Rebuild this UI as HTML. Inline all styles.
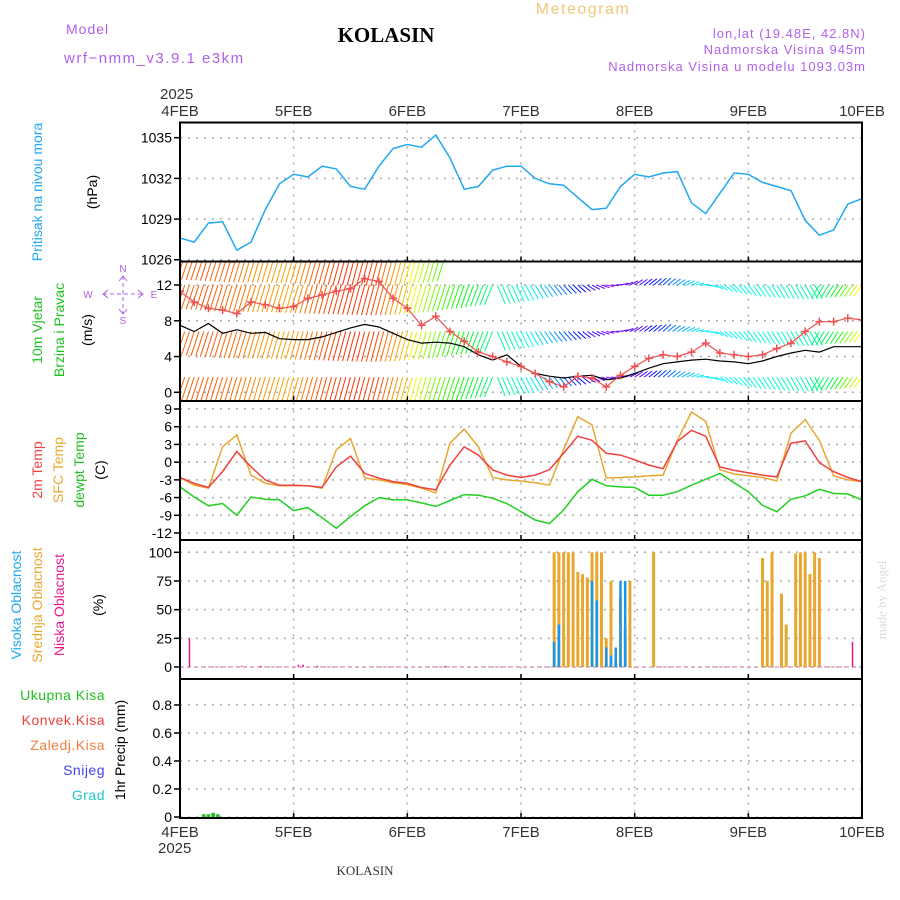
<!DOCTYPE html>
<html><head><meta charset="utf-8">
<style>
body{margin:0;background:#fff;}
svg{display:block;font-family:"Liberation Sans",sans-serif;}
</style></head>
<body>
<svg id="chart" width="900" height="900" viewBox="0 0 900 900">
  <rect x="0" y="0" width="900" height="900" fill="#fff"/>
  <text x="66" y="34" font-size="14" fill="#b060e8" letter-spacing="1">Model</text>
  <text x="64" y="63" font-size="15" fill="#b060e8" letter-spacing="1.5">wrf−nmm_v3.9.1  e3km</text>
  <text x="386" y="42" font-size="21" font-weight="bold" font-family="Liberation Serif,serif" text-anchor="middle" fill="#000">KOLASIN</text>
  <text x="583" y="14" font-size="16" fill="#f0c878" text-anchor="middle" letter-spacing="1.5">Meteogram</text>
  <text x="866" y="38" font-size="13" fill="#b060e8" text-anchor="end" letter-spacing="1">lon,lat (19.48E, 42.8N)</text>
  <text x="866" y="54" font-size="13" fill="#b060e8" text-anchor="end" letter-spacing="1">Nadmorska Visina 945m</text>
  <text x="866" y="71" font-size="13" fill="#b060e8" text-anchor="end" letter-spacing="1">Nadmorska Visina u modelu 1093.03m</text>
  <text x="160" y="99" font-size="15" fill="#333">2025</text>
  <text x="158" y="853" font-size="15" fill="#333">2025</text>
  <text x="365" y="875" font-size="13" fill="#333" font-family="Liberation Serif,serif" text-anchor="middle">KOLASIN</text>
  <text transform="translate(886,600) rotate(-90)" font-size="13" fill="#d8e0d8" font-family="Liberation Serif,serif" text-anchor="middle">made by Angel</text>

  <!-- left labels -->
  <text transform="translate(42,192) rotate(-90)" font-size="14" fill="#20a8f0" text-anchor="middle">Pritisak na nivou mora</text>
  <text transform="translate(97,192) rotate(-90)" font-size="14" fill="#000" text-anchor="middle">(hPa)</text>
  <text transform="translate(42,330) rotate(-90)" font-size="14" fill="#20c020" text-anchor="middle">10m Vjetar</text>
  <text transform="translate(64,330) rotate(-90)" font-size="14" fill="#20c020" text-anchor="middle">Brzina i Pravac</text>
  <text transform="translate(92,330) rotate(-90)" font-size="14" fill="#000" text-anchor="middle">(m/s)</text>
  <g>
    <line x1="123" y1="276" x2="123" y2="314" stroke="#b060e8" stroke-width="1" stroke-dasharray="4,3"/>
    <line x1="103" y1="294" x2="143" y2="294" stroke="#b060e8" stroke-width="1" stroke-dasharray="4,3"/>
    <path d="M119,281 L123,276 L127,281 M119,309 L123,314 L127,309 M108,290 L103,294 L108,298 M138,290 L143,294 L138,298" fill="none" stroke="#b060e8" stroke-width="1"/>
    <g fill="#b060e8" font-size="10" text-anchor="middle">
      <text x="123" y="272">N</text><text x="123" y="324">S</text>
      <text x="88" y="298">W</text><text x="154" y="298">E</text>
    </g>
  </g>
  <text transform="translate(42,470) rotate(-90)" font-size="14" fill="#f04040" text-anchor="middle">2m Temp</text>
  <text transform="translate(63,470) rotate(-90)" font-size="14" fill="#e8a830" text-anchor="middle">SFC Temp</text>
  <text transform="translate(84,470) rotate(-90)" font-size="14" fill="#20c020" text-anchor="middle">dewpt Temp</text>
  <text transform="translate(105,470) rotate(-90)" font-size="14" fill="#000" text-anchor="middle">(C)</text>
  <text transform="translate(21,605) rotate(-90)" font-size="14" fill="#20a8f0" text-anchor="middle">Visoka Oblacnost</text>
  <text transform="translate(42,605) rotate(-90)" font-size="14" fill="#e8a830" text-anchor="middle">Srednja Oblacnost</text>
  <text transform="translate(64,605) rotate(-90)" font-size="14" fill="#e81890" text-anchor="middle">Niska Oblacnost</text>
  <text transform="translate(103,605) rotate(-90)" font-size="14" fill="#000" text-anchor="middle">(%)</text>
  <g font-size="14" text-anchor="end" letter-spacing="0.5">
    <text x="105" y="700" fill="#20c020">Ukupna  Kisa</text>
    <text x="105" y="725" fill="#f04040">Konvek.Kisa</text>
    <text x="105" y="750" fill="#f08040">Zaledj.Kisa</text>
    <text x="105" y="775" fill="#4040f0">Snijeg</text>
    <text x="105" y="800" fill="#20c8c8">Grad</text>
  </g>
  <text transform="translate(125,750) rotate(-90)" font-size="14" fill="#000" text-anchor="middle">1hr Precip (mm)</text>

  <g id="plots"></g>
</svg>
<script>
const dayLabels = ["4FEB","5FEB","6FEB","7FEB","8FEB","9FEB","10FEB"];
const pressure = [1027.6,1027.3,1028.7,1028.8,1026.7,1027.3,1029.7,1031.6,1032.3,1032.1,1032.9,1032.7,1031.4,1031.2,1032.9,1034.2,1034.5,1034.3,1035.2,1033.5,1031.2,1031.4,1032.6,1032.9,1032.9,1032.0,1031.6,1031.5,1030.6,1029.7,1029.8,1031.4,1032.3,1032.1,1032.4,1032.5,1030.2,1029.4,1030.9,1032.4,1032.3,1031.7,1031.4,1031.1,1028.9,1027.8,1028.2,1030.1,1030.5];
const windSpeed = [7.5,6.8,7.7,6.6,7.0,6.6,6.7,6.0,5.9,5.9,6.2,6.7,7.2,7.6,7.3,6.6,5.9,5.5,5.6,5.5,5.1,4.2,3.6,4.2,2.9,2.1,1.8,1.6,1.8,1.9,1.4,1.6,2.1,2.7,3.2,3.4,3.6,3.7,3.5,3.4,3.2,3.5,4.0,4.4,4.7,4.5,5.1,5.1,5.1];
const windGust = [11.3,10.1,9.4,9.2,8.8,10.1,9.8,9.4,9.6,10.5,10.9,11.3,11.6,12.7,12.4,10.5,9.4,7.5,8.5,6.8,5.7,4.5,4.0,3.4,2.9,2.1,1.2,0.6,1.8,1.6,0.6,1.9,2.9,3.8,4.2,4.0,4.5,5.5,4.4,4.2,4.0,4.2,4.9,5.5,6.8,7.9,7.9,8.3,8.1];
const windDir = [25,20,25,35,40,20,10,15,45,90,120,150,175,200,240,270,260,220,185,180,175,170,160,140,60];
const barbDrop = [2.6,2.8,3.0,3.0,3.1,3.2,3.3,3.4,3.3,3.0,2.6,2.2,1.8,1.2,0.8,0.2,-0.6,-0.8,-0.4,0.6,1.2,1.5,1.6,1.4,1.2];
const barbLevels = [1.7,6.8,12,15.3];
const temp2m = [-2.6,-3.6,-4.3,-1.6,1.8,-0.8,-3.0,-3.9,-3.9,-4.0,-4.3,-0.8,1.0,-1.9,-2.7,-3.3,-3.6,-4.3,-4.7,-0.5,2.6,1.2,-1.3,-2.2,-2.6,-2.2,-1.3,1.5,4.4,3.7,1.5,1.2,0.4,-0.5,-1.1,3.5,5.4,4.4,-0.8,-1.4,-1.8,-2.2,-2.5,3.2,3.6,-0.1,-1.6,-2.6,-3.3];
const tempSfc = [-2.6,-3.9,-4.4,2.6,4.6,-2.2,-3.6,-4.0,-4.0,-4.0,-4.4,2.1,4.0,-2.7,-3.0,-3.5,-3.8,-4.4,-5.2,3.2,5.6,2.6,-2.6,-3.0,-3.2,-3.5,-3.9,2.1,7.7,6.3,-2.7,-2.6,-2.5,-2.3,-2.2,3.7,8.5,6.9,-1.3,-2.0,-2.3,-2.6,-3.2,4.9,7.2,3.7,-2.3,-3.0,-3.3];
const dewpt = [-4.2,-5.9,-7.4,-7.0,-9.0,-5.9,-6.3,-6.4,-8.2,-7.7,-9.4,-11.2,-9.2,-7.4,-6.0,-6.4,-6.4,-6.9,-7.5,-6.5,-5.5,-5.6,-6.1,-7.0,-8.4,-9.8,-10.4,-8.1,-5.0,-2.9,-4.0,-4.2,-4.3,-5.6,-5.6,-5.0,-3.9,-2.9,-1.9,-3.5,-5.0,-7.3,-8.4,-6.3,-5.7,-4.6,-5.3,-5.4,-6.4];
const midCloudHours = [79,80,81,82,83,84,85,86,87,88,89,90,91,92,93,94,95,100,123,124,125,127,128,130,131,132,133,134,135];
const midCloudValues = [100,100,100,100,100,83,81,78,100,100,100,25,75,5,60,35,75,100,95,75,100,64,37,99,100,100,81,100,95];
const highCloudHours = [79,80,87,88,90,91,92,93,94];
const highCloudValues = [22,37,75,58,17,10,17,75,75];
const lowCloudHours = [2,13,17,25,26,29,56,142];
const lowCloudValues = [25,1,1,2,2,1,1,22];
const precipHours = [5,6,7,8];
const precipValues = [0.02,0.02,0.03,0.02];
const pTicks = [1026,1029,1032,1035];
const wTicks = [0,4,8,12];
const tTicks = [-12,-9,-6,-3,0,3,6,9];
const cTicks = [0,25,50,75,100];
const rTicks = [0,0.2,0.4,0.6,0.8];
const rTickLabels = ["0","0.2","0.4","0.6","0.8"];

const NS = "http://www.w3.org/2000/svg";
const X0 = 180, X1 = 862;
const xs = h => X0 + h * (X1 - X0) / 144;
const panels = [
  {top:122.5,bot:261.5,y:v=>137.7+(1035-v)*13.56},
  {top:261.5,bot:401,y:v=>392.3-v*8.94},
  {top:401,bot:540,y:v=>409+(9-v)*5.905},
  {top:540,bot:679,y:v=>667-v*1.147},
  {top:679,bot:818,y:v=>817-v*140}
];
const root = document.getElementById('plots');
function mk(tag, attrs, parent){
  const e = document.createElementNS(NS, tag);
  for (const k in attrs) e.setAttribute(k, attrs[k]);
  (parent||root).appendChild(e);
  return e;
}
const defs = mk('defs', {});
panels.forEach((p,i)=>{
  const c = mk('clipPath',{id:'clip'+i},defs);
  mk('rect',{x:X0,y:p.top,width:X1-X0,height:p.bot-p.top},c);
});
function ticks(pi, vals, labels, name){
  const p = panels[pi];
  const g = mk('g',{});
  
  
  vals.forEach((v,i)=>{
    const y = p.y(v);
    const ln = mk('line',{x1:X0,x2:X1,y1:y,y2:y,stroke:'#aaa','stroke-width':1.5,'stroke-dasharray':'2,6'},g);
    
    
    mk('line',{x1:X0-6,x2:X0,y1:y,y2:y,stroke:'#000','stroke-width':1.5},g);
    const t = mk('text',{x:X0-8,y:y+5,'font-size':14,'text-anchor':'end',fill:'#000'},g);
    t.textContent = labels ? labels[i] : String(v);
    
    
  });
}
ticks(0,pTicks,null,'pressure-y-axis');
ticks(1,wTicks,null,'wind-y-axis');
ticks(2,tTicks,null,'temp-y-axis');
ticks(3,cTicks,null,'cloud-y-axis');
ticks(4,rTicks,rTickLabels,'precip-y-axis');
for (let d=1; d<6; d++){
  const x = xs(d*24);
  const v = mk('line',{x1:x,x2:x,y1:122.5,y2:818,stroke:'#aaa','stroke-width':1.5,'stroke-dasharray':'2,6'});
  
  
}
dayLabels.forEach((l,i)=>{
  const x = xs(i*24);
  const t1 = mk('text',{x:x,y:116,'font-size':15,'text-anchor':'middle',fill:'#333'});
  t1.textContent = l;
  
  
  const t2 = mk('text',{x:x,y:837,'font-size':15,'text-anchor':'middle',fill:'#333'});
  t2.textContent = l;
  
  
  panels.forEach(p=>{ mk('line',{x1:x,x2:x,y1:p.bot-5,y2:p.bot,stroke:'#000','stroke-width':1.5}); });
});
function poly(pi, vals, color, name, w){
  const p = panels[pi];
  const pts = vals.map((v,i)=>xs(i*3).toFixed(1)+','+p.y(v).toFixed(1)).join(' ');
  const e = mk('polyline',{points:pts,fill:'none',stroke:color,'stroke-width':w||1.5,'clip-path':'url(#clip'+pi+')'});
  
  
  return e;
}
poly(0,pressure,'#20a8f0','pressure-line');
function hueColor(h){ return 'hsl('+h+',95%,50%)'; }
const barbG = mk('g',{'clip-path':'url(#clip1)'});


barbLevels.forEach((lv,bi)=>{
  for (let h=0; h<=144; h++){
    if (bi===3 && h>56) break;
    const k = Math.min(23, Math.floor(h/6)), f = h/6 - k;
    const dir = windDir[k] + (windDir[k+1]-windDir[k])*f;
    const drop = barbDrop[k] + (barbDrop[k+1]-barbDrop[k])*f;
    const x = xs(h), y0 = panels[1].y(lv), y1 = panels[1].y(lv-drop);
    const dx = dir>150 ? 8 : -8;
    const l = mk('line',{x1:x,y1:y0,x2:x+dx,y2:y1,stroke:hueColor(dir),'stroke-width':1},barbG);
    
    
  }
});
poly(1,windSpeed,'#000','wind-speed-line',1.2);
poly(1,windGust,'#f05050','wind-gust-line',1.2);
windGust.forEach((v,i)=>{
  const x = xs(i*3), y = panels[1].y(v);
  const m = mk('path',{d:`M${x-4},${y}H${x+4}M${x},${y-4}V${y+4}`,stroke:'#f05050','stroke-width':1.5,'clip-path':'url(#clip1)'});
  
  
});
poly(2,tempSfc,'#e8a830','sfc-temp-line');
poly(2,temp2m,'#f04040','t2m-line');
poly(2,dewpt,'#20d020','dewpt-line');
function bars(hours, vals, color, name, w){
  hours.forEach((h,i)=>{
    const x = xs(h), y = panels[3].y(vals[i]);
    const r = mk('rect',{x:x-w/2,y:y,width:w,height:panels[3].y(0)-y,fill:color});
    
    
  });
}
mk('line',{x1:X0,x2:X1,y1:panels[3].y(0),y2:panels[3].y(0),stroke:'#e0a0c0','stroke-width':1.5,'stroke-dasharray':'4,3'});
bars(midCloudHours,midCloudValues,'#e8a830','mid-cloud-bar',3);
bars(highCloudHours,highCloudValues,'#1898e8','high-cloud-bar',2.5);
bars(lowCloudHours,lowCloudValues,'#e01888','low-cloud-bar',1.5);
precipHours.forEach((h,i)=>{
  const x = xs(h), y = panels[4].y(precipValues[i]);
  const r = mk('rect',{x:x-1.8,y:y,width:3.6,height:panels[4].y(0)-y,fill:'#20c020'});
  
  
});
panels.forEach((p,i)=>{
  const r = mk('rect',{x:X0,y:p.top,width:X1-X0,height:p.bot-p.top,fill:'none',stroke:'#000','stroke-width':2});
  
  
});
</script>
</body></html>
